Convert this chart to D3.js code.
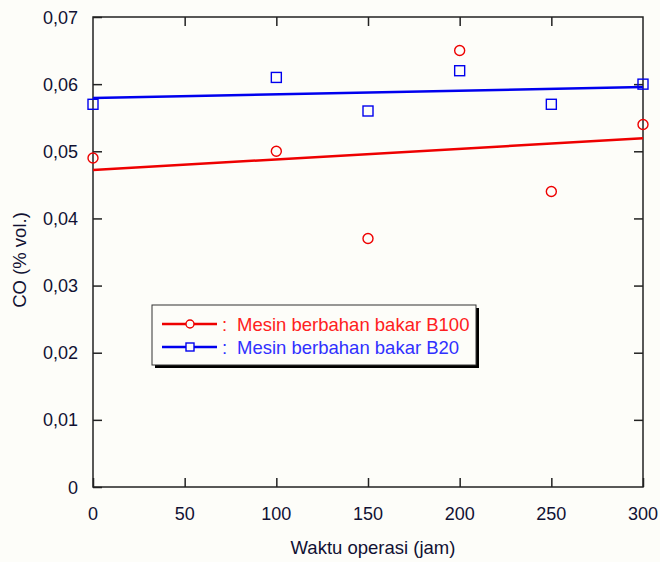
<!DOCTYPE html>
<html lang="id">
<head>
<meta charset="UTF-8">
<title>CO vs Waktu operasi</title>
<script src="https://cdn.jsdelivr.net/npm/d3@7"></script>
<style>
    body { margin: 0; background: #fdfdf9; }
    svg { display: block; font-family: Arial, 'Liberation Sans', sans-serif; }
    .tick-label { font-size: 18px; fill: #111133; }
    .axis-title { font-size: 18.5px; fill: #111133; }
</style>
</head>
<body>
<svg id="chart" width="660" height="562"></svg>
<script>
"use strict";

// hours of operation
const hours = [0, 100, 150, 200, 250, 300];
// CO (% vol.) for each engine
const coB100 = [0.049, 0.050, 0.037, 0.065, 0.044, 0.054];
const coB20 = [0.057, 0.061, 0.056, 0.062, 0.057, 0.060];

const xTicks = [0, 50, 100, 150, 200, 250, 300];
const yTicks = [0, 0.01, 0.02, 0.03, 0.04, 0.05, 0.06, 0.07];

const seriesNames = ["Mesin berbahan bakar B100", "Mesin berbahan bakar B20"];
const seriesColors = ["#ee0000", "#0000ee"];
const textColors = ["#ff2020", "#3030ff"];

const margin = { left: 93, top: 17, right: 17, bottom: 75 };
const width = 660, height = 562;

const svg = d3.select("#chart");

const x = d3.scaleLinear().domain([0, 300]).range([margin.left, width - margin.right]);
const y = d3.scaleLinear().domain([0, 0.07]).range([height - margin.bottom, margin.top]);

const fmt = v => v === 0 ? "0" : d3.format(".2f")(v).replace(".", ",");

// least squares fit for trend lines
function fit(xs, ys) {
    const mx = d3.mean(xs), my = d3.mean(ys);
    let sxy = 0, sxx = 0;
    xs.forEach((v, i) => { sxy += (v - mx) * (ys[i] - my); sxx += (v - mx) * (v - mx); });
    const slope = sxy / sxx;
    return { slope: slope, intercept: my - slope * mx };
}

// ticks on all four sides, pointing inward
const tickLen = 9;
const frame = svg.append("g").attr("stroke", "#222").attr("stroke-width", 1.5);

frame.append("g")
    .attr("transform", `translate(0,${y(0)})`)
    .call(d3.axisBottom(x).tickValues(xTicks).tickSize(-tickLen).tickFormat(""))
    .call(g => g.select(".domain").remove());
frame.append("g")
    .attr("transform", `translate(0,${y(0.07)})`)
    .call(d3.axisTop(x).tickValues(xTicks.slice(1, -1)).tickSize(-tickLen).tickFormat(""))
    .call(g => g.select(".domain").remove());
frame.append("g")
    .attr("transform", `translate(${x(0)},0)`)
    .call(d3.axisLeft(y).tickValues(yTicks).tickSize(-tickLen).tickFormat(""))
    .call(g => g.select(".domain").remove());
frame.append("g")
    .attr("transform", `translate(${x(300)},0)`)
    .call(d3.axisRight(y).tickValues(yTicks.slice(1, -1)).tickSize(-tickLen).tickFormat(""))
    .call(g => g.select(".domain").remove());

svg.selectAll(".tick line").attr("stroke", "#222").attr("stroke-width", 1.5);

frame.append("rect")
    .attr("x", x(0)).attr("y", y(0.07))
    .attr("width", x(300) - x(0)).attr("height", y(0) - y(0.07))
    .attr("fill", "none");

// tick labels
svg.append("g").selectAll("text")
    .data(xTicks).join("text")
    .attr("class", "tick-label")
    .attr("x", d => x(d)).attr("y", y(0) + 33)
    .attr("text-anchor", "middle")
    .text(d => d);

svg.append("g").selectAll("text")
    .data(yTicks).join("text")
    .attr("class", "tick-label")
    .attr("x", x(0) - 15).attr("y", d => y(d) + 6.5)
    .attr("text-anchor", "end")
    .text(fmt);

svg.append("text")
    .attr("class", "axis-title")
    .attr("x", 373).attr("y", 554)
    .attr("text-anchor", "middle")
    .text("Waktu operasi (jam)");

svg.append("text")
    .attr("class", "axis-title")
    .attr("transform", "translate(26,260) rotate(-90)")
    .attr("text-anchor", "middle")
    .text("CO (% vol.)");

// trend lines
[coB100, coB20].forEach((vals, i) => {
    const f = fit(hours, vals);
    svg.append("line")
        .attr("x1", x(0)).attr("y1", y(f.intercept))
        .attr("x2", x(300)).attr("y2", y(f.intercept + f.slope * 300))
        .attr("stroke", seriesColors[i]).attr("stroke-width", 2.5);
});

// markers
svg.append("g").selectAll("circle")
    .data(hours).join("circle")
    .attr("cx", d => x(d)).attr("cy", (d, i) => y(coB100[i]))
    .attr("r", 5)
    .attr("fill", "none").attr("stroke", seriesColors[0]).attr("stroke-width", 1.4);

svg.append("g").selectAll("rect")
    .data(hours).join("rect")
    .attr("x", d => x(d) - 5).attr("y", (d, i) => y(coB20[i]) - 5)
    .attr("width", 10).attr("height", 10)
    .attr("fill", "none").attr("stroke", seriesColors[1]).attr("stroke-width", 1.4);

// legend
const lg = svg.append("g").attr("transform", "translate(152,305)");
lg.append("rect").attr("x", 3).attr("y", 3).attr("width", 324).attr("height", 60).attr("fill", "#000");
lg.append("rect").attr("x", 0).attr("y", 0).attr("width", 324).attr("height", 60)
    .attr("fill", "#fdfdf9").attr("stroke", "#333").attr("stroke-width", 1);

seriesNames.forEach((name, i) => {
    const row = lg.append("g").attr("transform", `translate(0,${19 + i * 23})`);
    row.append("line").attr("x1", 10).attr("x2", 65).attr("y1", 0).attr("y2", 0)
        .attr("stroke", seriesColors[i]).attr("stroke-width", 2.5);
    if (i === 0) {
        row.append("circle").attr("cx", 38).attr("cy", 0).attr("r", 4)
            .attr("fill", "#fdfdf9").attr("stroke", seriesColors[i]).attr("stroke-width", 1.4);
    } else {
        row.append("rect").attr("x", 34).attr("y", -4).attr("width", 8).attr("height", 8)
            .attr("fill", "#fdfdf9").attr("stroke", seriesColors[i]).attr("stroke-width", 1.4);
    }
    row.append("text")
        .attr("x", 70).attr("y", 6.5)
        .attr("font-size", 18.5)
        .attr("fill", textColors[i])
        .text(":");
    row.append("text")
        .attr("x", 85).attr("y", 6.5)
        .attr("font-size", 18.5)
        .attr("fill", textColors[i])
        .text(name);
});
</script>
</body>
</html>
